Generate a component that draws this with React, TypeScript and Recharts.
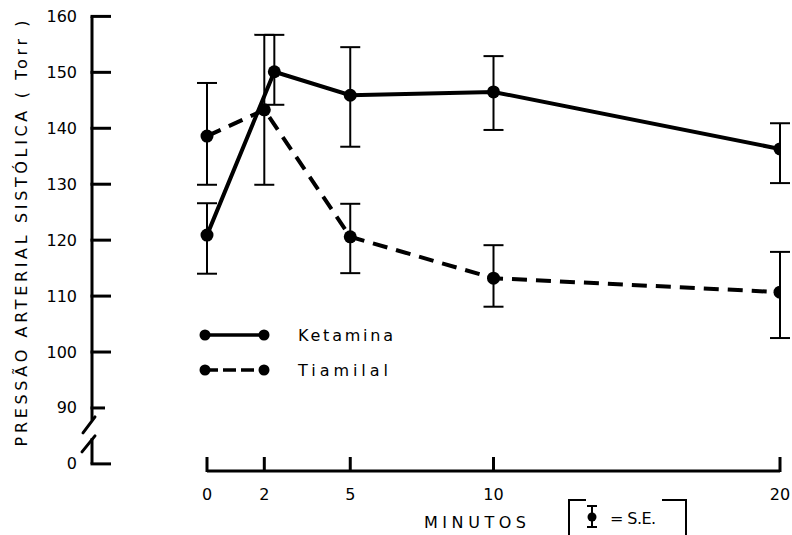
import React from 'react';
import { ComposedChart, Line, XAxis, YAxis, ErrorBar, ReferenceLine, Legend } from 'recharts';

// ---- data ----
const minuteTicks = [0, 2, 5, 10, 20];
const ketaminaTime = [0, 2.35, 5, 10, 20];
const ketaminaMean = [120.9, 150.1, 145.9, 146.5, 136.3];
const ketaminaLow = [114.0, 144.2, 136.7, 139.7, 130.2];
const ketaminaHigh = [126.6, 156.7, 154.5, 152.9, 140.9];
const tiamilalTime = [0, 2, 5, 10, 20];
const tiamilalMean = [138.6, 143.3, 120.6, 113.2, 110.7];
const tiamilalLow = [129.9, 129.9, 114.1, 108.1, 102.5];
const tiamilalHigh = [148.1, 156.7, 126.5, 119.1, 117.9];
const pressureTicks = [80, 90, 100, 110, 120, 130, 140, 150, 160];
const pressureTickLabels = ['0', '90', '100', '110', '120', '130', '140', '150', '160'];

// axis layout constants (broken axis: the bottom tick "0" sits where 80 would be)
const X_MIN = -4.014;
const X_MAX = 20;
const Y_MIN = 78.73;
const Y_MAX = 160;
const Y_BREAK_TOP = 87.8;
const Y_BREAK_BOTTOM = 84.6;

const FONT = 'DejaVu Sans';

const ketaminaData = ketaminaTime.map((x, i) => ({
  x,
  y: ketaminaMean[i],
  err: [ketaminaMean[i] - ketaminaLow[i], ketaminaHigh[i] - ketaminaMean[i]],
}));
const tiamilalData = tiamilalTime.map((x, i) => ({
  x,
  y: tiamilalMean[i],
  err: [tiamilalMean[i] - tiamilalLow[i], tiamilalHigh[i] - tiamilalMean[i]],
}));

const XTick = (props: any) => {
  const { x, y, payload } = props;
  return (
    <g>
      <line x1={x} y1={y + 1} x2={x} y2={y - 14} stroke="#000" strokeWidth={3} />
      <text x={x} y={y + 23} textAnchor="middle" dominantBaseline="central" fontFamily={FONT} fontSize={16} fill="#000">
        {payload.value}
      </text>
    </g>
  );
};

const YTick = (props: any) => {
  const { x, y, payload } = props;
  const v = payload.value;
  const idx = pressureTicks.indexOf(v);
  const len = v === 90 ? 13 : 19;
  return (
    <g>
      <line x1={x - 1.5} y1={y} x2={x + len} y2={y} stroke="#000" strokeWidth={3} />
      <text x={x - 15} y={y} textAnchor="end" dominantBaseline="central" fontFamily={FONT} fontSize={16} fill="#000">
        {pressureTickLabels[idx]}
      </text>
      {v === 80 ? (
        <g stroke="#000" strokeWidth={3} strokeLinecap="round">
          <line x1={x - 9} y1={y - 31} x2={x + 3} y2={y - 47} />
          <line x1={x - 10} y1={y - 12} x2={x + 3} y2={y - 28} />
        </g>
      ) : null}
    </g>
  );
};

const YLabel = (props: any) => {
  const vb = props.viewBox || { x: 0, y: 16, width: 92, height: 455 };
  const cx = vb.x + 22;
  const cy = vb.y + 217;
  return (
    <text
      x={cx}
      y={cy}
      transform={`rotate(-90 ${cx} ${cy})`}
      textAnchor="middle"
      dominantBaseline="central"
      fontFamily={FONT}
      fontSize={16}
      fill="#000"
      textLength={426}
      lengthAdjust="spacing"
    >
      PRESSÃO ARTERIAL SISTÓLICA ( Torr )
    </text>
  );
};

const XLabel = (props: any) => {
  const vb = props.viewBox || { x: 92, y: 471, width: 688, height: 64 };
  const ox = vb.x;
  const oy = vb.y;
  return (
    <g fontFamily={FONT} fontSize={16} fill="#000">
      <text x={ox + 383} y={oy + 51} textAnchor="middle" dominantBaseline="central" textLength={102} lengthAdjust="spacing">
        MINUTOS
      </text>
      <g stroke="#000" strokeWidth={2} fill="none">
        <polyline points={`${ox + 477},${oy + 70} ${ox + 477},${oy + 29} ${ox + 494},${oy + 29}`} />
        <polyline points={`${ox + 570},${oy + 29} ${ox + 594},${oy + 29} ${ox + 594},${oy + 70}`} />
        <line x1={ox + 500} y1={oy + 35} x2={ox + 500} y2={oy + 56} />
        <line x1={ox + 495} y1={oy + 35} x2={ox + 505} y2={oy + 35} />
        <line x1={ox + 495} y1={oy + 56} x2={ox + 505} y2={oy + 56} />
      </g>
      <circle cx={ox + 500} cy={oy + 46} r={4.5} fill="#000" />
      <text x={ox + 518} y={oy + 47} dominantBaseline="central" textLength={46} lengthAdjust="spacing">
        = S.E.
      </text>
    </g>
  );
};

const LegendContent = (props: any) => {
  const payload = (props.payload || []) as any[];
  return (
    <svg width={230} height={70} style={{ display: 'block', overflow: 'visible' }}>
      {payload.map((entry, i) => {
        const cy = 17 + i * 35;
        const dash = entry.payload && entry.payload.strokeDasharray;
        return (
          <g key={i}>
            <line x1={15} y1={cy} x2={74} y2={cy} stroke="#000" strokeWidth={3.5} strokeDasharray={dash ? '13 5' : undefined} />
            <circle cx={15} cy={cy} r={5.5} fill="#000" />
            <circle cx={74} cy={cy} r={5.5} fill="#000" />
            <text
              x={108}
              y={cy}
              dominantBaseline="central"
              fontFamily={FONT}
              fontSize={16}
              fill="#000"
              textLength={i === 0 ? 95 : 90}
              lengthAdjust="spacing"
            >
              {entry.value}
            </text>
          </g>
        );
      })}
    </svg>
  );
};

export default function App() {
  return (
    <div style={{ position: 'absolute', left: 0, top: 0, width: 792, height: 535, background: '#fff' }}>
      <ComposedChart width={792} height={535} margin={{ top: 16.4, right: 12, bottom: 0, left: 0 }}>
        <XAxis
          type="number"
          dataKey="x"
          domain={[X_MIN, X_MAX]}
          ticks={minuteTicks}
          interval={0}
          allowDataOverflow
          axisLine={false}
          tickLine={false}
          tickSize={0}
          tickMargin={0}
          height={64}
          tick={XTick}
          label={{ content: XLabel }}
        />
        <YAxis
          type="number"
          domain={[Y_MIN, Y_MAX]}
          ticks={pressureTicks}
          interval={0}
          allowDataOverflow
          axisLine={false}
          tickLine={false}
          tickSize={0}
          tickMargin={0}
          width={92}
          tick={YTick}
          label={{ content: YLabel }}
        />
        <ReferenceLine segment={[{ x: 0, y: Y_MIN }, { x: X_MAX, y: Y_MIN }]} stroke="#000" strokeWidth={3} ifOverflow="visible" />
        <ReferenceLine segment={[{ x: X_MIN, y: Y_MAX }, { x: X_MIN, y: Y_BREAK_TOP }]} stroke="#000" strokeWidth={3} ifOverflow="visible" />
        <ReferenceLine segment={[{ x: X_MIN, y: Y_BREAK_BOTTOM }, { x: X_MIN, y: 80 }]} stroke="#000" strokeWidth={3} ifOverflow="visible" />
        <Legend
          verticalAlign="middle"
          align="center"
          layout="horizontal"
          wrapperStyle={{ position: 'absolute', left: 190, top: 318, width: 230, height: 70 }}
          content={LegendContent}
        />
        <Line
          name="Ketamina"
          data={ketaminaData}
          dataKey="y"
          type="linear"
          stroke="#000"
          strokeWidth={4}
          dot={{ r: 6.5, fill: '#000', stroke: '#000', strokeWidth: 0 }}
          isAnimationActive={false}
        >
          <ErrorBar dataKey="err" direction="y" width={10} stroke="#000" strokeWidth={2} isAnimationActive={false} />
        </Line>
        <Line
          name="Tiamilal"
          data={tiamilalData}
          dataKey="y"
          type="linear"
          stroke="#000"
          strokeWidth={4}
          strokeDasharray="15 9"
          dot={{ r: 6.5, fill: '#000', stroke: '#000', strokeWidth: 0 }}
          isAnimationActive={false}
        >
          <ErrorBar dataKey="err" direction="y" width={10} stroke="#000" strokeWidth={2} isAnimationActive={false} />
        </Line>
      </ComposedChart>
    </div>
  );
}
